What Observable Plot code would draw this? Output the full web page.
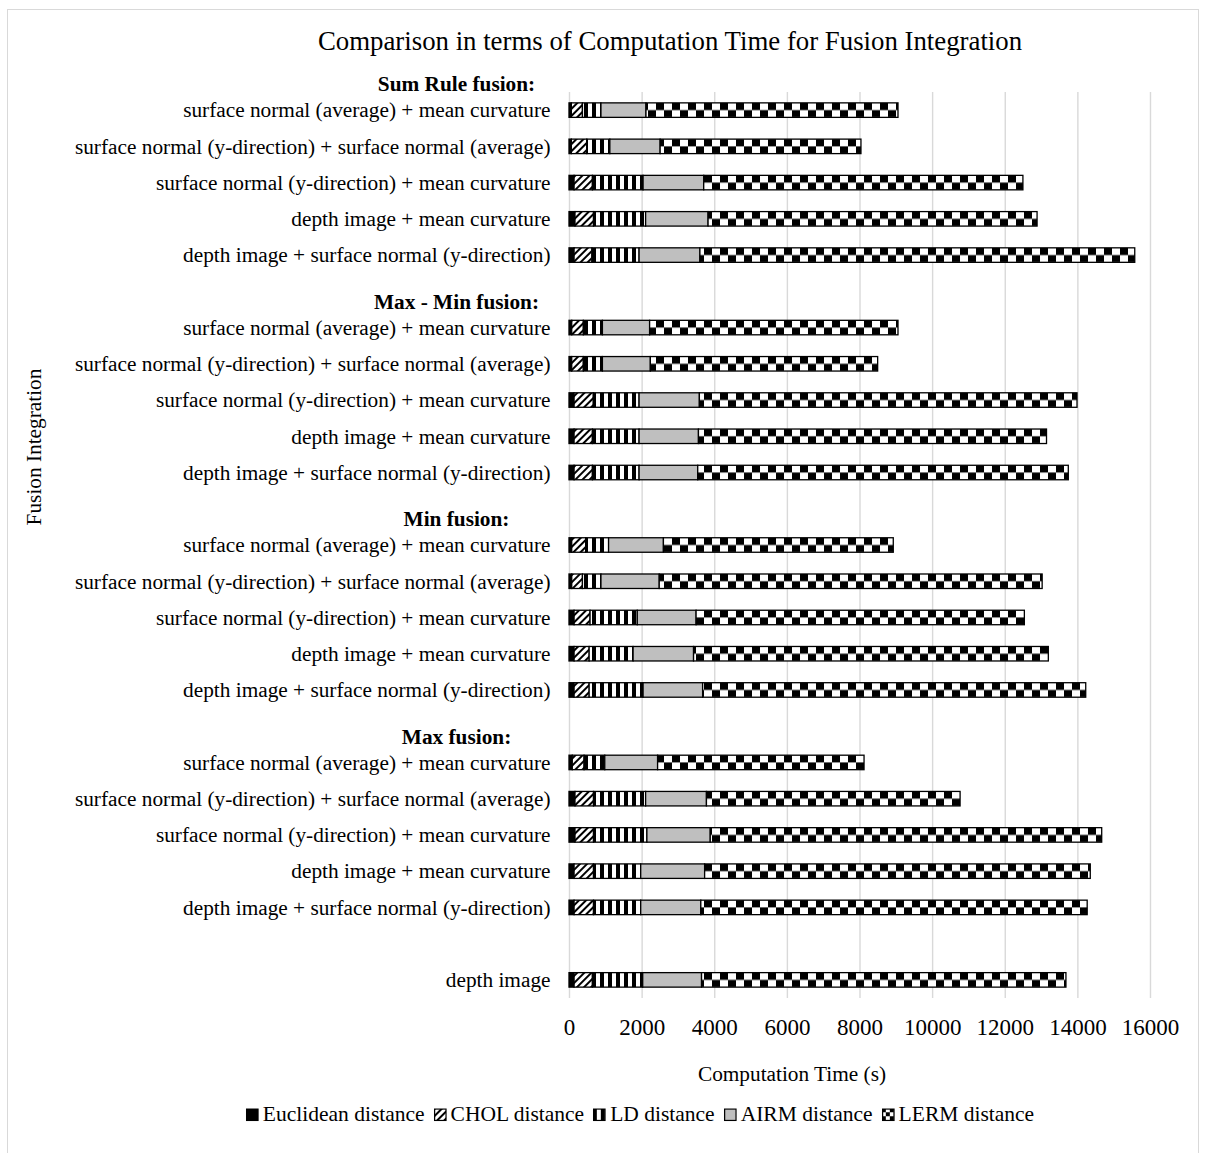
<!DOCTYPE html>
<html>
<head>
<meta charset="utf-8">
<script src="https://cdn.jsdelivr.net/npm/d3@7"></script>
<script src="https://cdn.jsdelivr.net/npm/@observablehq/plot@0.6"></script>
<style>
  body { margin: 0; background: #fff; font-family: "Liberation Serif", "Times New Roman", serif; color: #000; }
  #wrap { position: relative; width: 1206px; height: 1153px; overflow: hidden; background: #fff; }
  #frame { position: absolute; left: 7px; top: 9px; width: 1192px; height: 1200px; border: 1px solid #d9d9d9; box-sizing: border-box; }
  #chart { position: absolute; left: 0; top: 0; }
  .lbl { position: absolute; transform: translate(-50%, -50%); white-space: nowrap; line-height: 1; font-family: "Liberation Serif", "Times New Roman", serif; }
  #title { left: 670px; top: 41px; font-size: 26.8px; }
  #xlabel { left: 792px; top: 1075px; font-size: 21.3px; }
  #ylabel { left: 35px; top: 447px; font-size: 21.3px; transform: translate(-50%, -50%) rotate(-90deg); }
  #legend { left: 640px; top: 1115px; font-size: 21.5px; display: flex; align-items: center; gap: 9px; }
  #legend .item { display: flex; align-items: center; gap: 4px; }
  #legend svg { display: block; }
</style>
</head>
<body>
<div id="wrap">
  <div id="frame"></div>
  <div id="chart"></div>
  <div id="title" class="lbl">Comparison in terms of Computation Time for Fusion Integration</div>
  <div id="xlabel" class="lbl">Computation Time (s)</div>
  <div id="ylabel" class="lbl">Fusion Integration</div>
  <div id="legend" class="lbl"></div>
</div>
<script>
// ---- data ----
const groups = ["Sum Rule fusion:", "Max - Min fusion:", "Min fusion:", "Max fusion:"];
const combos = [
  "surface normal (average) + mean curvature",
  "surface normal (y-direction) + surface normal (average)",
  "surface normal (y-direction) + mean curvature",
  "depth image + mean curvature",
  "depth image + surface normal (y-direction)"
];
const singleLabel = "depth image";
const distances = ["Euclidean distance", "CHOL distance", "LD distance", "AIRM distance", "LERM distance"];

// rows: Sum Rule (5), Max - Min (5), Min (5), Max (5), depth image
const euclidean = [65, 65, 140, 165, 140,   75, 75, 140, 140, 140,   75, 75, 140, 140, 140,   90, 165, 165, 140, 140,   140];
const chol      = [305, 425, 505, 510, 490,  320, 320, 530, 505, 505,  385, 295, 440, 415, 415,  325, 510, 510, 535, 535,  505];
const ld        = [510, 635, 1395, 1435, 1300,  525, 525, 1260, 1285, 1285,  630, 510, 1300, 1210, 1485,  570, 1435, 1470, 1300, 1300,  1385];
const airm      = [1240, 1385, 1670, 1720, 1675,  1300, 1320, 1660, 1635, 1615,  1510, 1605, 1620, 1665, 1640,  1455, 1675, 1745, 1760, 1655,  1620];
const lerm      = [6940, 5530, 8790, 9060, 11975,  6840, 6260, 10400, 9585, 10205,  6330, 10545, 9040, 9770, 10550,  5685, 6985, 10780, 10620, 10640,  10035];
const xTicks = [0, 2000, 4000, 6000, 8000, 10000, 12000, 14000, 16000];

// ---- build rows ----
const rows = [];
groups.forEach(g => combos.forEach(c => rows.push({group: g, label: c, key: g + "|" + c})));
rows.push({group: "", label: singleLabel, key: singleLabel});

const domain = [];
const labelOf = new Map();
groups.forEach((g, gi) => {
  rows.filter(r => r.group === g).forEach(r => { domain.push(r.key); labelOf.set(r.key, r.label); });
  domain.push("gap" + gi); labelOf.set("gap" + gi, "");
});
domain.push(singleLabel); labelOf.set(singleLabel, singleLabel);

const series = [euclidean, chol, ld, airm, lerm];
const data = [];
rows.forEach((r, i) => distances.forEach((d, j) => data.push({key: r.key, dist: d, value: series[j][i]})));

const headers = groups.map(g => rows.find(r => r.group === g));

const fills = ["#000000", "url(#pChol)", "url(#pLd)", "#bfbfbf", "url(#pLerm)"];
const FONT = "'Liberation Serif', 'Times New Roman', serif";

const W = 1206, H = 1153;
const plot = Plot.plot({
  width: W,
  height: H,
  marginLeft: 569,
  marginRight: 56,
  marginTop: 92,
  marginBottom: 155,
  style: {fontFamily: FONT, fontSize: "21px", color: "#000", background: "transparent"},
  x: {domain: [0, 16000], axis: null},
  y: {domain, paddingInner: 0.6, paddingOuter: 0.3, round: false, axis: null},
  color: {domain: distances, range: fills},
  marks: [
    Plot.gridX({ticks: xTicks, stroke: "#d9d9d9", strokeOpacity: 1, strokeWidth: 1.4}),
    Plot.axisX({ticks: xTicks, tickSize: 0, tickPadding: 20, fontSize: 23, fontFamily: FONT, tickFormat: d => String(d), label: null}),
    Plot.axisY({tickSize: 0, tickPadding: 19, fontSize: 21.3, fontFamily: FONT, tickFormat: k => labelOf.get(k), label: null}),
    Plot.text(headers, {y: "key", text: "group", frameAnchor: "left", dx: -113, dy: -26, textAnchor: "middle", fontWeight: "bold", fontSize: 21.3, fontFamily: FONT, fill: "#000"}),
    Plot.barX(data, Plot.stackX({x: "value", y: "key", fill: "dist", stroke: "#000", strokeWidth: 1.3}))
  ]
});
document.getElementById("chart").appendChild(plot);

// ---- patterns ----
const ys = plot.scale("y");
const step = ys.step, bw = ys.bandwidth;
const yStart = ys.apply(domain[0]);
const svg = d3.select(plot);
const defs = svg.insert("defs", ":first-child");

const pc = defs.append("pattern").attr("id", "pChol").attr("patternUnits", "userSpaceOnUse")
  .attr("width", 5).attr("height", 5).attr("patternTransform", "rotate(45)");
pc.append("rect").attr("width", 5).attr("height", 5).attr("fill", "#fff");
pc.append("rect").attr("width", 2).attr("height", 5).attr("fill", "#000");

const pl = defs.append("pattern").attr("id", "pLd").attr("patternUnits", "userSpaceOnUse")
  .attr("width", 8).attr("height", 8);
pl.append("rect").attr("width", 8).attr("height", 8).attr("fill", "#fff");
pl.append("rect").attr("width", 4).attr("height", 8).attr("fill", "#000");

const pr = defs.append("pattern").attr("id", "pLerm").attr("patternUnits", "userSpaceOnUse")
  .attr("x", 0).attr("y", yStart).attr("width", 16).attr("height", step);
pr.append("rect").attr("width", 16).attr("height", step).attr("fill", "#fff");
pr.append("rect").attr("x", 0).attr("y", 0).attr("width", 8).attr("height", bw / 2).attr("fill", "#000");
pr.append("rect").attr("x", 8).attr("y", bw / 2).attr("width", 8).attr("height", bw / 2).attr("fill", "#000");

// ---- legend ----
const legend = d3.select("#legend");
distances.forEach((d, i) => {
  const item = legend.append("div").attr("class", "item");
  const s = item.append("svg").attr("width", 13).attr("height", 13);
  let f = fills[i];
  if (i === 4) {
    f = "url(#pLegLerm)";
    const p = s.append("defs").append("pattern").attr("id", "pLegLerm").attr("patternUnits", "userSpaceOnUse")
      .attr("width", 8).attr("height", 8);
    p.append("rect").attr("width", 8).attr("height", 8).attr("fill", "#fff");
    p.append("rect").attr("width", 4).attr("height", 4).attr("fill", "#000");
    p.append("rect").attr("x", 4).attr("y", 4).attr("width", 4).attr("height", 4).attr("fill", "#000");
  }
  s.append("rect").attr("x", 0.75).attr("y", 0.75).attr("width", 11.5).attr("height", 11.5)
    .attr("fill", f).attr("stroke", "#000").attr("stroke-width", 1.3);
  item.append("span").text(d);
});
</script>
</body>
</html>
